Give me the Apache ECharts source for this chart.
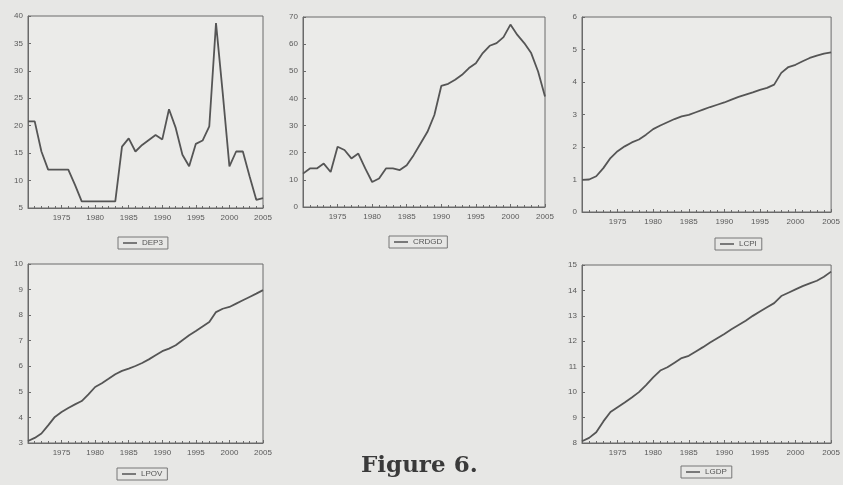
<!DOCTYPE html>
<html><head><meta charset="utf-8">
<script src="https://cdn.jsdelivr.net/npm/echarts@6/dist/echarts.min.js"></script>
<style>html,body{margin:0;padding:0;background:#e7e7e5;}#c{width:843px;height:485px;}</style>
</head><body><div id="c"></div>
<script>
const years = [1970,1971,1972,1973,1974,1975,1976,1977,1978,1979,1980,1981,1982,1983,1984,1985,1986,1987,1988,1989,1990,1991,1992,1993,1994,1995,1996,1997,1998,1999,2000,2001,2002,2003,2004,2005];
const xTicks = [1975,1980,1985,1990,1995,2000,2005];
const dep3  = [20.8,20.8,15.3,12.0,12.0,12.0,12.0,9.2,6.2,6.2,6.2,6.2,6.2,6.2,16.2,17.7,15.3,16.5,17.4,18.3,17.5,23.0,19.6,14.7,12.6,16.7,17.3,19.9,38.7,26.0,12.6,15.3,15.3,10.8,6.5,6.8];
const crdgd = [12.3,14.2,14.2,16.0,12.9,22.2,21.0,17.9,19.7,14.2,9.2,10.5,14.2,14.2,13.6,15.4,19.1,23.4,27.7,33.9,44.6,45.4,46.9,48.7,51.2,53.0,56.7,59.4,60.4,62.6,67.2,63.4,60.4,56.7,49.9,40.7];
const lcpi  = [0.99,1.0,1.1,1.35,1.66,1.87,2.02,2.14,2.23,2.38,2.55,2.66,2.76,2.86,2.94,2.99,3.07,3.15,3.23,3.30,3.37,3.46,3.54,3.61,3.68,3.76,3.82,3.92,4.28,4.46,4.53,4.64,4.74,4.81,4.87,4.91];
const lpov  = [3.08,3.2,3.37,3.69,4.02,4.21,4.37,4.51,4.64,4.9,5.19,5.34,5.51,5.69,5.82,5.91,6.01,6.13,6.27,6.43,6.59,6.69,6.82,7.02,7.21,7.38,7.56,7.73,8.12,8.25,8.32,8.45,8.58,8.71,8.84,8.98];
const lgdp  = [8.07,8.2,8.42,8.85,9.22,9.41,9.59,9.79,10.0,10.28,10.58,10.85,10.98,11.16,11.34,11.43,11.6,11.77,11.95,12.12,12.29,12.47,12.64,12.81,13.0,13.17,13.34,13.5,13.78,13.91,14.04,14.17,14.28,14.38,14.54,14.74];
const yMins = [5,0,0,3,8];
const yMaxs = [40,70,6,10,15];
const yIntervals = [5,10,1,1,1];
const names = ['DEP3','CRDGD','LCPI','LPOV','LGDP'];
const values = [dep3,crdgd,lcpi,lpov,lgdp];

const grids = [
  {left:28, top:16, width:235, height:192},
  {left:303, top:17, width:242, height:190},
  {left:582, top:17, width:252, height:195},
  {left:28, top:264, width:235, height:179},
  {left:582, top:265, width:252, height:178}
];
const legendPos = [
  {left:118, top:237},
  {left:389, top:236},
  {left:715, top:238},
  {left:117, top:468},
  {left:681, top:466}
];
const lineCol = '#555555', axCol = '#6a6a6a', txtCol = '#5a5a5a';
const chart = echarts.init(document.getElementById('c'));
const option = {
  backgroundColor:'#e7e7e5',
  animation:false,
  grid: grids.map(g=>Object.assign({show:true, borderColor:axCol, borderWidth:1, backgroundColor:'#ebebe9'}, g)),
  xAxis: grids.map((g,i)=>({
    type:'value', gridIndex:i, min:1970, max:2005, interval:5,
    axisLine:{show:true, lineStyle:{color:axCol, width:1}},
    axisTick:{show:true, inside:true, length:3, lineStyle:{color:axCol}},
    minorTick:{show:true, splitNumber:5, length:2, lineStyle:{color:axCol}},
    splitLine:{show:false},
    axisLabel:{fontSize:8, color:txtCol, margin:6, fontFamily:'Liberation Sans',
      formatter:v=> xTicks.indexOf(v)>=0 ? String(v) : ''}
  })),
  yAxis: grids.map((g,i)=>({
    type:'value', gridIndex:i, min:yMins[i], max:yMaxs[i], interval:yIntervals[i],
    axisLine:{show:true, lineStyle:{color:axCol, width:1}},
    axisTick:{show:true, inside:true, length:3, lineStyle:{color:axCol}},
    splitLine:{show:false},
    axisLabel:{fontSize:8, color:txtCol, margin:5, fontFamily:'Liberation Sans'}
  })),
  legend: names.map((n,i)=>Object.assign({
    data:[{name:n, icon:'rect'}], orient:'horizontal', borderColor:'#777', borderWidth:1, borderRadius:0,
    padding:[2,5,2,5], itemWidth:14, itemHeight:1.5, itemGap:4,
    itemStyle:{color:lineCol},
    textStyle:{fontSize:8, color:'#555', fontFamily:'Liberation Sans', lineHeight:8},
    selectedMode:false
  }, legendPos[i])),
  series: names.map((n,i)=>({
    name:n, type:'line', xAxisIndex:i, yAxisIndex:i, symbol:'none',
    lineStyle:{color:lineCol, width:1.8}, itemStyle:{color:lineCol},
    data: years.map((y,k)=>[y, values[i][k]])
  })),
  graphic:[{type:'text', left:361, top:455, style:{text:'Figure 6.', font:'bold 23px "DejaVu Serif"', fill:'#3a3a3a'}}]
};
chart.setOption(option);
</script></body></html>
